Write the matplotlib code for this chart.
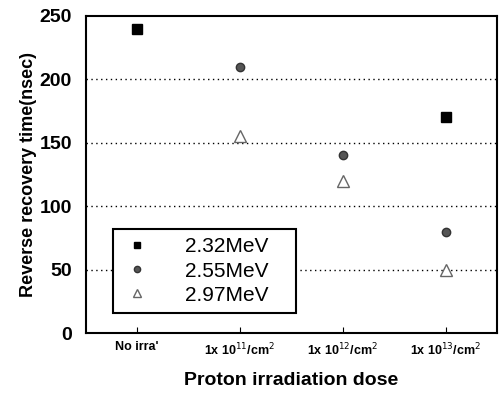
import matplotlib
matplotlib.use("Agg")
import matplotlib.pyplot as plt

doses = ["No irra'", r"1x 10$^{11}$/cm$^2$", r"1x 10$^{12}$/cm$^2$", r"1x 10$^{13}$/cm$^2$"]
yticks = [0, 50, 100, 150, 200, 250]

# (category index, value) for each energy
e232_x = [0, 3]
e232_y = [240, 170]
e255_x = [1, 2, 3]
e255_y = [210, 140, 80]
e297_x = [1, 2, 3]
e297_y = [155, 120, 50]

plt.rcParams['font.family'] = ['Liberation Sans', 'DejaVu Sans']

fig = plt.figure(figsize=(4.99, 3.97), dpi=100)
ax = fig.add_axes([0.172, 0.161, 0.824, 0.799])

pos = [0.5, 1.5, 2.5, 3.5]
ax.plot([pos[i] for i in e232_x], e232_y, "s", color="black", ms=6.5, label="2.32MeV", zorder=3)
ax.plot([pos[i] for i in e255_x], e255_y, "o", color="#555555", mec="#333333", ms=6, label="2.55MeV", zorder=3)
ax.plot([pos[i] for i in e297_x], e297_y, "^", color="white", mec="#666666", ms=8, mew=1, label="2.97MeV", zorder=3)

ax.set_xlim(0, 4)
ax.set_ylim(0, 250)
ax.set_xticks(pos)
ax.set_xticklabels(doses, fontsize=9, fontweight="bold")
ax.set_yticks(yticks)
ax.set_yticklabels([str(v) for v in yticks], fontsize=14, fontweight="bold")
ax.tick_params(axis="x", direction="in", length=4, pad=6)
ax.tick_params(axis="y", direction="in", length=0, pad=10)

for v in yticks[1:-1]:
    ax.axhline(v, color="black", linestyle=(0, (1, 2.5)), linewidth=1.0, zorder=1)

for s in ax.spines.values():
    s.set_linewidth(1.5)

ax.set_ylabel("Reverse recovery time(nsec)", fontsize=13, fontweight="bold", labelpad=2)
ax.set_xlabel("Proton irradiation dose", fontsize=14, fontweight="bold", labelpad=10)

leg = ax.legend(loc="lower left", bbox_to_anchor=(0.065, 0.063, 0.446, 0.337), mode="expand",
                fontsize=15, frameon=True, fancybox=False, edgecolor="black", markerscale=0.75,
                borderaxespad=0, handletextpad=1.6, labelspacing=0.25, handlelength=1.5)
leg.get_frame().set_linewidth(1.5)
leg.get_frame().set_alpha(1)

fig.savefig("out.png", dpi=100)
